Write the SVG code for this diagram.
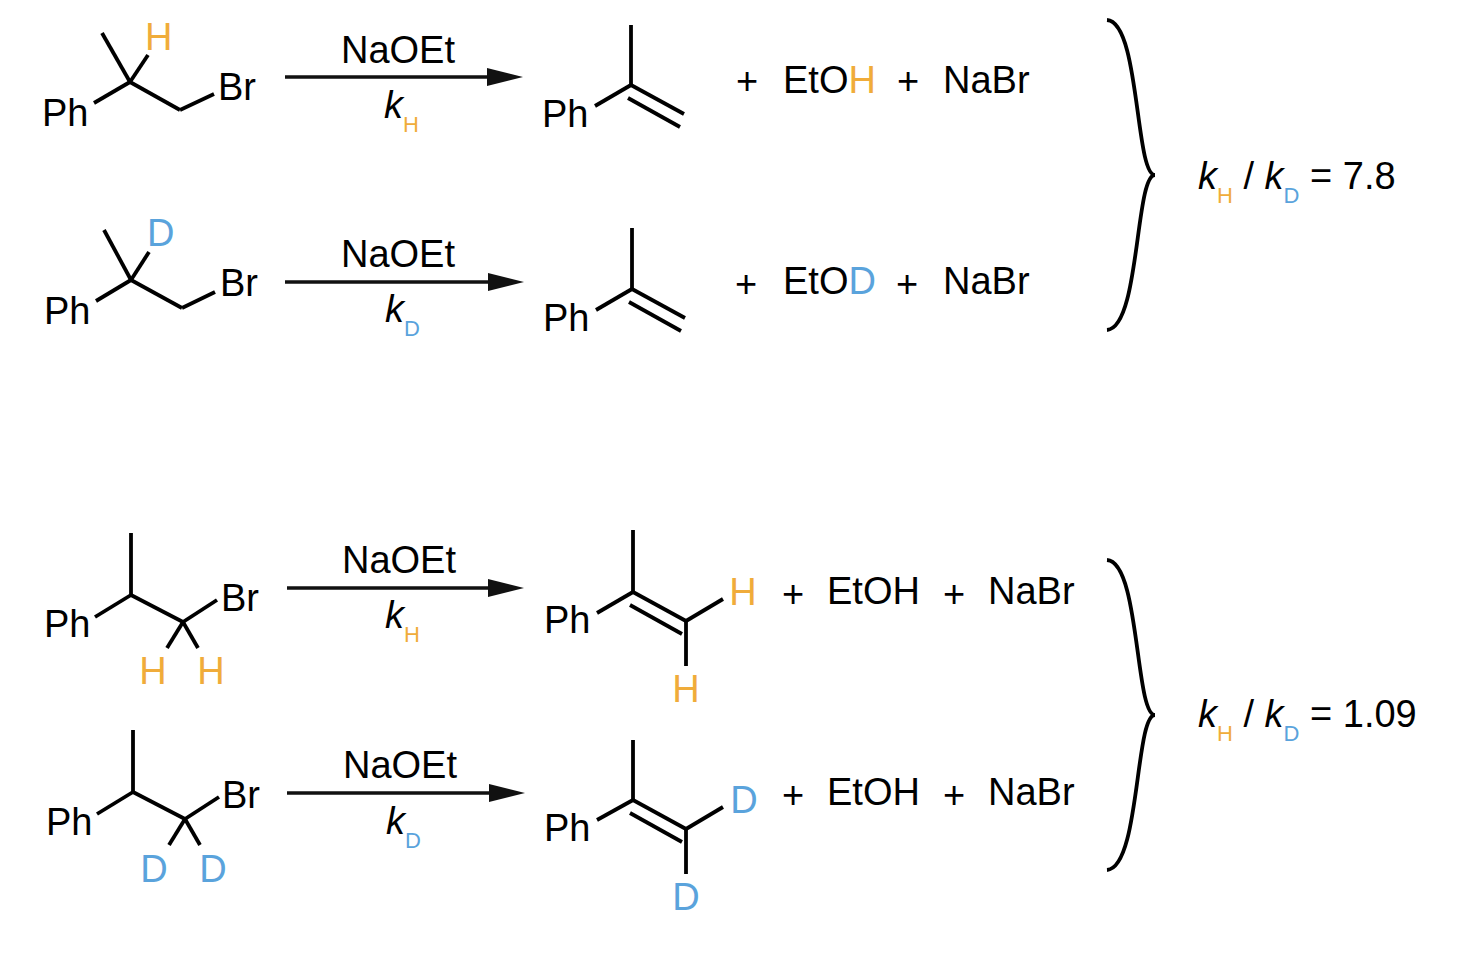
<svg xmlns="http://www.w3.org/2000/svg" width="1458" height="960" viewBox="0 0 1458 960">
<defs>
<style>
text{font-family:"Liberation Sans",Arial,sans-serif;font-size:38px;fill:#000}
.o{fill:#f0ac3a}.b{fill:#5aa3dc}
.s{font-size:22px}.k{font-style:italic}
.m{text-anchor:middle}
line,path.bd{stroke:#000;stroke-width:3.8;fill:none;stroke-linecap:butt}
.arr{stroke:#111;stroke-width:3.5}
</style></defs>
<rect width="1458" height="960" fill="#fff"/>
<g id="r1">
<line x1="102" y1="33" x2="130" y2="82"/><line x1="130" y1="82" x2="148" y2="55"/><line x1="130" y1="82" x2="94" y2="103"/><line x1="130" y1="82" x2="180" y2="110"/><line x1="180" y1="110" x2="214" y2="94"/>
<text x="145" y="50" class="o">H</text><text x="42" y="126">Ph</text><text x="218" y="100">Br</text>
<path d="M285,77 H490" class="arr"/><path d="M487,68 L523,77 L487,86 z" fill="#111"/>
<text x="398" y="63" class="m">NaOEt</text><text x="384" y="118" class="k">k</text><text x="403" y="132" class="s o">H</text>
<line x1="631" y1="25" x2="631" y2="85"/><line x1="631" y1="85" x2="595" y2="106"/><line x1="631" y1="85" x2="684" y2="114"/><line x1="628" y1="98" x2="680" y2="127"/>
<text x="542" y="127">Ph</text>
<text x="736" y="94">+</text><text x="783" y="93">EtO<tspan class="o">H</tspan></text><text x="897" y="94">+</text><text x="943" y="93">NaBr</text>
</g>
<g id="r2">
<line x1="104" y1="230" x2="131" y2="280"/><line x1="131" y1="280" x2="149" y2="252"/><line x1="131" y1="280" x2="96" y2="301"/><line x1="131" y1="280" x2="182" y2="308"/><line x1="182" y1="308" x2="215" y2="292"/>
<text x="147" y="246" class="b">D</text><text x="44" y="324">Ph</text><text x="220" y="296">Br</text>
<path d="M285,282 H490" class="arr"/><path d="M488,273 L524,282 L488,291 z" fill="#111"/>
<text x="398" y="267" class="m">NaOEt</text><text x="385" y="322" class="k">k</text><text x="404" y="336" class="s b">D</text>
<line x1="632" y1="228" x2="632" y2="289"/><line x1="632" y1="289" x2="596" y2="310"/><line x1="632" y1="289" x2="685" y2="318"/><line x1="629" y1="302" x2="681" y2="331"/>
<text x="543" y="331">Ph</text>
<text x="735" y="297">+</text><text x="783" y="294">EtO<tspan class="b">D</tspan></text><text x="896" y="297">+</text><text x="943" y="294">NaBr</text>
</g>
<g id="brace1"><path class="bd" d="M1107,20 C1140,22 1135,175 1155,175 C1135,175 1140,328 1107,330"/></g>
<text x="1198" y="189"><tspan class="k">k</tspan><tspan class="s o" dy="14">H</tspan><tspan dy="-14"> / </tspan><tspan class="k">k</tspan><tspan class="s b" dy="14">D</tspan><tspan dy="-14"> = 7.8</tspan></text>
<g id="r3">
<line x1="131" y1="533" x2="131" y2="595"/><line x1="131" y1="595" x2="95" y2="617"/><line x1="131" y1="595" x2="183" y2="622"/><line x1="183" y1="622" x2="217" y2="600"/><line x1="183" y1="622" x2="167" y2="648"/><line x1="183" y1="622" x2="198" y2="648"/>
<text x="44" y="637">Ph</text><text x="221" y="611">Br</text><text x="153" y="684" class="o m">H</text><text x="211" y="684" class="o m">H</text>
<path d="M287,588 H490" class="arr"/><path d="M488,579 L524,588 L488,597 z" fill="#111"/>
<text x="399" y="573" class="m">NaOEt</text><text x="385" y="628" class="k">k</text><text x="404" y="642" class="s o">H</text>
<line x1="633" y1="530" x2="633" y2="592"/><line x1="633" y1="592" x2="597" y2="613"/><line x1="633" y1="592" x2="686" y2="621"/><line x1="630" y1="605" x2="682" y2="634"/><line x1="686" y1="621" x2="723" y2="599"/><line x1="686" y1="621" x2="686" y2="666"/>
<text x="544" y="633">Ph</text><text x="743" y="605" class="o m">H</text><text x="686" y="702" class="o m">H</text>
<text x="782" y="607">+</text><text x="827" y="604">EtOH</text><text x="943" y="607">+</text><text x="988" y="604">NaBr</text>
</g>
<g id="r4">
<line x1="133" y1="730" x2="133" y2="792"/><line x1="133" y1="792" x2="97" y2="814"/><line x1="133" y1="792" x2="185" y2="819"/><line x1="185" y1="819" x2="219" y2="797"/><line x1="185" y1="819" x2="169" y2="845"/><line x1="185" y1="819" x2="200" y2="845"/>
<text x="46" y="835">Ph</text><text x="222" y="808">Br</text><text x="154" y="882" class="b m">D</text><text x="213" y="882" class="b m">D</text>
<path d="M287,793 H490" class="arr"/><path d="M489,784 L525,793 L489,802 z" fill="#111"/>
<text x="400" y="778" class="m">NaOEt</text><text x="386" y="834" class="k">k</text><text x="405" y="848" class="s b">D</text>
<line x1="633" y1="740" x2="633" y2="800"/><line x1="633" y1="800" x2="597" y2="820"/><line x1="633" y1="800" x2="686" y2="829"/><line x1="630" y1="813" x2="682" y2="842"/><line x1="686" y1="829" x2="723" y2="807"/><line x1="686" y1="829" x2="686" y2="874"/>
<text x="544" y="841">Ph</text><text x="744" y="813" class="b m">D</text><text x="686" y="910" class="b m">D</text>
<text x="782" y="808">+</text><text x="827" y="805">EtOH</text><text x="943" y="808">+</text><text x="988" y="805">NaBr</text>
</g>
<g id="brace2"><path class="bd" d="M1107,560 C1140,562 1135,715 1155,715 C1135,715 1140,868 1107,870"/></g>
<text x="1198" y="727"><tspan class="k">k</tspan><tspan class="s o" dy="14">H</tspan><tspan dy="-14"> / </tspan><tspan class="k">k</tspan><tspan class="s b" dy="14">D</tspan><tspan dy="-14"> = 1.09</tspan></text>
</svg>
